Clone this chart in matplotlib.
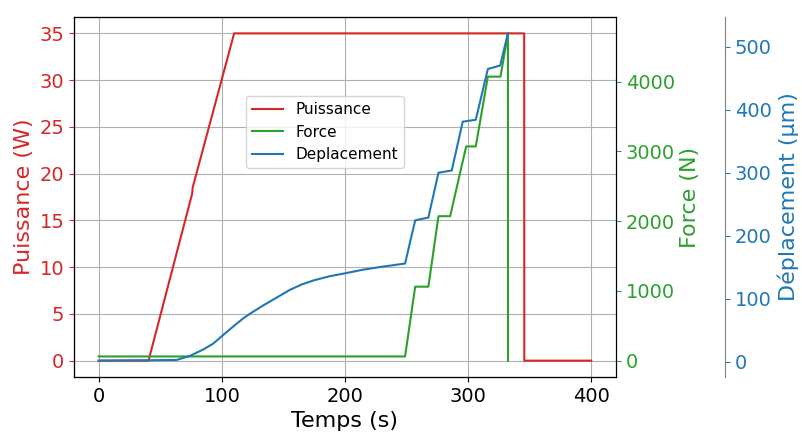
import matplotlib.pyplot as plt

# Puissance (W)
t_puissance = [0, 40.5, 76.0, 76.3, 110, 345.5, 345.6, 400]
puissance = [0, 0, 17.9, 18.5, 35, 35, 0, 0]

# Force (N)
t_force = [0, 248.8, 257.0, 267.7, 275.9, 285.4, 298.4, 306.2, 316.0, 326.3, 332.3, 332.4]
force = [60, 60, 1060, 1060, 2070, 2070, 3070, 3070, 4070, 4070, 4690, 0]

# Deplacement (µm)
t_dep = [0, 63, 74, 84.8, 93, 101, 109, 117.3, 125.4, 133.6, 144.5, 155, 165, 175,
         187.8, 201.4, 214, 228.5, 248.8,
         257.0, 267.7, 275.9, 286.7, 295.6, 306.2, 316.0, 326.0, 332.3]
deplacement = [2, 3, 9.5, 19.6, 29, 42.5, 55.7, 69, 79.6, 89.5, 102, 114, 123, 129.5,
               136, 141, 146, 150.5, 156,
               224.5, 229, 300, 303.6, 381, 384, 464.5, 470, 521]

fig, ax1 = plt.subplots(figsize=(8.02, 4.33), dpi=100)
fig.subplots_adjust(left=0.0923, right=0.768, top=0.9607, bottom=0.1293)

c_red, c_green, c_blue = 'tab:red', 'tab:green', 'tab:blue'

l1, = ax1.plot(t_puissance, puissance, color=c_red, label='Puissance')
ax1.set_xlabel('Temps (s)', fontsize=16)
ax1.set_ylabel('Puissance (W)', color=c_red, fontsize=16)
ax1.tick_params(axis='y', labelcolor=c_red, color=c_red, labelsize=14)
ax1.tick_params(axis='x', labelsize=14)
ax1.set_xticks([0, 100, 200, 300, 400])
ax1.set_yticks(range(0, 36, 5))
ax1.grid(True)

ax2 = ax1.twinx()
l2, = ax2.plot(t_force, force, color=c_green, label='Force')
ax2.set_ylabel('Force (N)', color=c_green, fontsize=16)
ax2.tick_params(axis='y', labelcolor=c_green, color=c_green, labelsize=14)
ax2.set_yticks([0, 1000, 2000, 3000, 4000])

ax3 = ax1.twinx()
ax3.spines['right'].set_position(('axes', 1.201))
ax3.spines['right'].set_color('gray')
l3, = ax3.plot(t_dep, deplacement, color=c_blue, label='Deplacement')
ax3.set_ylabel('Déplacement (µm)', color=c_blue, fontsize=16)
ax3.tick_params(axis='y', labelcolor=c_blue, color=c_blue, labelsize=14)
ax3.set_yticks([0, 100, 200, 300, 400, 500])

ax3.legend(handles=[l1, l2, l3], loc='center', bbox_to_anchor=(0.463, 0.68), fontsize=11)

fig.savefig('out.png', dpi=100)
